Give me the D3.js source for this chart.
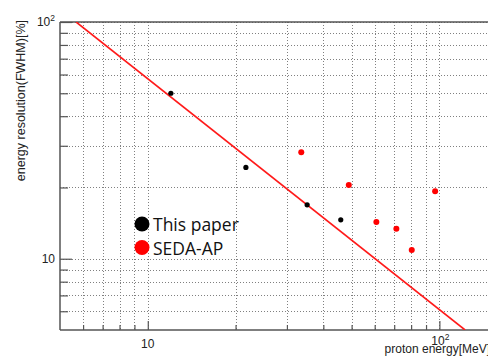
<!DOCTYPE html>
<html>
<head>
<meta charset="utf-8">
<script src="https://cdn.jsdelivr.net/npm/d3@7"></script>
<style>
  html, body { margin: 0; padding: 0; background: #fff; }
  svg { display: block; }
</style>
</head>
<body>
<svg id="chart"></svg>
<script>
// data
const thisPaperEnergy = [12, 21.7, 35.2, 45.9]
const thisPaperRes = [50, 24.3, 16.9, 14.6]
const sedaEnergy = [33.6, 48.9, 60.8, 71.2, 80.4, 96.7]
const sedaRes = [28.2, 20.5, 14.3, 13.4, 10.9, 19.3]
// red line, where it meets the frame
const lineEnergy = [5.68, 122.5]
const lineRes = [100, 5]

const xMajor = [10, 100]
const xMinor = [6, 7, 8, 9, 20, 30, 40, 50, 60, 70, 80, 90]
const yMajor = [10, 100]
const yMinor = [6, 7, 8, 9, 20, 30, 40, 50, 60, 70, 80, 90]

const legendItems = [
  { label: 'This paper', color: '#000' },
  { label: 'SEDA-AP', color: '#ff0000' }
]

const width = 488
const height = 356
const padLeft = 60
const padTop = 22
const padBottom = 330

const svg = d3.select('#chart').attr('width', width).attr('height', height)

// one decade is ~291.6 px in x, frame runs off the right edge
const x = d3.scaleLog().domain([5, 200]).range([padLeft, padLeft + Math.log10(200 / 5) * 291.6])
const y = d3.scaleLog().domain([5, 100]).range([padBottom, padTop])

svg.append('defs').append('clipPath').attr('id', 'plotClip')
  .append('rect').attr('x', padLeft).attr('y', padTop)
  .attr('width', width - padLeft).attr('height', padBottom - padTop)

// grid (fine dotted)
const grid = svg.append('g').attr('stroke', '#808080').attr('stroke-width', 1)
  .attr('stroke-dasharray', '1,2')
xMajor.concat(xMinor).forEach(v => {
  grid.append('line')
    .attr('x1', Math.round(x(v)) + 0.5).attr('x2', Math.round(x(v)) + 0.5)
    .attr('y1', padTop).attr('y2', padBottom)
})
yMajor.concat(yMinor).forEach(v => {
  grid.append('line')
    .attr('x1', padLeft).attr('x2', width)
    .attr('y1', Math.round(y(v)) + 0.5).attr('y2', Math.round(y(v)) + 0.5)
})

// axes with ticks pointing inward
const axisColor = '#555'
const gx = svg.append('g').attr('transform', `translate(0,${padBottom})`)
gx.call(d3.axisTop(x).tickValues(xMinor).tickSize(5).tickFormat(''))
gx.append('g').call(d3.axisTop(x).tickValues(xMajor).tickSize(9).tickFormat(''))
gx.selectAll('.domain').remove()
gx.append('line').attr('x1', padLeft).attr('x2', width).attr('stroke', axisColor).attr('stroke-width', 1.5)
gx.selectAll('.tick line').attr('stroke', axisColor).attr('stroke-width', 1.2)

const gy = svg.append('g').attr('transform', `translate(${padLeft},0)`)
gy.call(d3.axisRight(y).tickValues(yMinor).tickSize(8).tickFormat(''))
gy.append('g').call(d3.axisRight(y).tickValues(yMajor).tickSize(12).tickFormat(''))
gy.selectAll('.domain').remove()
gy.append('line').attr('y1', padTop).attr('y2', padBottom).attr('stroke', axisColor).attr('stroke-width', 1.5)
gy.selectAll('.tick line').attr('stroke', axisColor).attr('stroke-width', 1.2)

// top frame
svg.append('line').attr('x1', padLeft).attr('x2', width).attr('y1', padTop).attr('y2', padTop)
  .attr('stroke', axisColor).attr('stroke-width', 1.5)

// tick labels
const labelFont = 'Liberation Sans, Arial, sans-serif'
function powerLabel(sel, v) {
  const p = Math.round(Math.log10(v))
  if (p === 1) sel.text('10')
  else {
    sel.append('tspan').text('10')
    sel.append('tspan').attr('dy', -5).attr('font-size', 8.5).text(p)
  }
}
yMajor.forEach(v => {
  svg.append('text')
    .attr('x', 55).attr('y', y(v) + 4)
    .attr('text-anchor', 'end')
    .attr('font-family', labelFont).attr('font-size', 12).attr('fill', '#222')
    .call(powerLabel, v)
})
xMajor.forEach(v => {
  svg.append('text')
    .attr('x', x(v) + (v === 100 ? 1 : 0)).attr('y', v === 100 ? 345 : 348)
    .attr('text-anchor', 'middle')
    .attr('font-family', labelFont).attr('font-size', 12).attr('fill', '#222')
    .call(powerLabel, v)
})

// axis titles
svg.append('text')
  .attr('transform', 'translate(25,20) rotate(-90)')
  .attr('text-anchor', 'end')
  .attr('font-family', labelFont).attr('font-size', 12.5).attr('fill', '#222')
  .text('energy resolution(FWHM)[%]')
svg.append('text')
  .attr('x', 490).attr('y', 353)
  .attr('text-anchor', 'end')
  .attr('font-family', labelFont).attr('font-size', 12).attr('fill', '#222')
  .text('proton energy[MeV]')

const plot = svg.append('g').attr('clip-path', 'url(#plotClip)')

// red line
const line = d3.line().x(d => x(d[0])).y(d => y(d[1]))
plot.append('path')
  .datum(d3.zip(lineEnergy, lineRes))
  .attr('d', line)
  .attr('fill', 'none')
  .attr('stroke', '#ff1a1a')
  .attr('stroke-width', 1.6)

// points
plot.selectAll('circle.seda')
  .data(d3.zip(sedaEnergy, sedaRes))
  .enter().append('circle')
  .attr('class', 'seda')
  .attr('cx', d => x(d[0])).attr('cy', d => y(d[1]))
  .attr('r', 3)
  .attr('fill', '#ff0000')
plot.selectAll('circle.paper')
  .data(d3.zip(thisPaperEnergy, thisPaperRes))
  .enter().append('circle')
  .attr('class', 'paper')
  .attr('cx', d => x(d[0])).attr('cy', d => y(d[1]))
  .attr('r', 2.6)
  .attr('fill', '#000')

// legend
const legend = svg.append('g').attr('transform', 'translate(142,224)')
legendItems.forEach((item, i) => {
  const row = legend.append('g').attr('transform', `translate(0,${i * 23.5})`)
  row.append('circle').attr('r', 7.5).attr('fill', item.color)
  row.append('text')
    .attr('x', 11).attr('y', 7)
    .attr('font-family', 'Open Sans, sans-serif').attr('font-size', 17.5)
    .attr('fill', '#111')
    .text(item.label)
})
</script>
</body>
</html>
